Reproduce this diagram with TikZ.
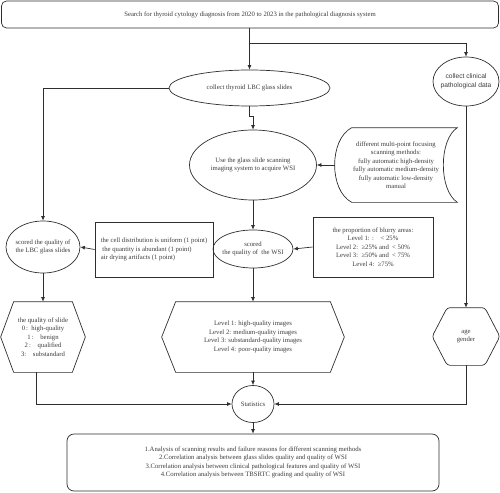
\documentclass[tikz,border=0pt]{standalone}
\usepackage{fontspec}
\setmainfont{Liberation Serif}
\setsansfont{Liberation Sans}
\usetikzlibrary{shapes.geometric,arrows.meta}
\definecolor{txtgray}{HTML}{3C3C3C}
\definecolor{linegray}{HTML}{2E2E2E}
% hexagon outline round a plain node: #2 node name, #3 corner cut
\newcommand{\hexframe}[3][]{%
  \draw[#1] (#2.west) -- ([xshift=#3]#2.north west) -- ([xshift=-#3]#2.north east)
    -- (#2.east) -- ([xshift=-#3]#2.south east) -- ([xshift=#3]#2.south west) -- cycle;}
\begin{document}
\begin{tikzpicture}[x=1pt,y=-1pt,line width=0.7pt,color=linegray,
    >={Latex[length=4.5pt,width=4pt]},
    box/.style={draw,text=txtgray,font=\fontsize{6.7}{8.5}\selectfont,align=center,inner sep=1pt},
    round box/.style={box,rounded corners=5pt},
    oval/.style={box,ellipse,inner sep=-30pt},
    frame node/.style={box,draw=none}]
    \useasboundingbox (0,0) rectangle (500,492);

    \node[round box, minimum width=497pt, minimum height=27pt] (search) at (250,14.5)
        {Search for thyroid cytology diagnosis from 2020 to 2023 in the pathological diagnosis system};
    \node[oval, minimum width=161pt, minimum height=36pt] (slides) at (249.5,88) {collect thyroid LBC glass slides};
    \node[oval, font={\sffamily\fontsize{6.7}{8.5}\selectfont}, minimum width=66pt, minimum height=49pt] (clinic) at (466,81.5)
        {collect clinical\\pathological data};
    \node[oval, minimum width=127pt, minimum height=70pt] (scan) at (253,165)
        {Use the glass slide scanning\\imaging system to acquire WSI};
    \node[frame node, minimum width=122pt, minimum height=74pt] (methods) at (396,165)
        {different multi-point focusing\\scanning methods:\\fully automatic high-density\\fully automatic medium-density\\fully automatic low-density\\manual};
    \node[oval, minimum width=80pt, minimum height=38pt] (wsiscore) at (253,249) {scored\\the quality of\ \ the WSI};
    \node[box, minimum width=120pt, minimum height=60pt] (blur) at (373,247)
        {the proportion of blurry areas:\\Level 1: :\ \ \ \ < 25\%\\Level 2:\ \ ≥25\% and\ \ < 50\%\\Level 3:\ \ ≥50\% and\ \ < 75\%\\Level 4:\ \ ≥75\%};
    \node[box, align=left, minimum width=118pt, minimum height=55pt] (points) at (154,249.5)
        {the cell distribution is uniform (1 point)\\\ the quantity is abundant (1 point)\\air drying artifacts (1 point)};
    \node[oval, minimum width=74pt, minimum height=52pt] (lbcscore) at (43,247) {scored the quality of\\the LBC glass slides};
    \node[frame node, minimum width=84pt, minimum height=70pt] (slidequal) at (43,337)
        {the quality of slide\\0\,:\ \ high-quality\\1\,:\quad benign\\2\,:\quad qualified\\3:\quad substandard};
    \node[frame node, minimum width=182pt, minimum height=70pt] (levels) at (253,337)
        {Level 1: high-quality images\\Level 2: medium-quality images\\Level 3: substandard-quality images\\Level 4: poor-quality images};
    \node[frame node, minimum width=67pt, minimum height=57pt] (agegender) at (466,336.5) {age\\gender};
    \node[oval, minimum width=42pt, minimum height=37pt] (stats) at (253,404) {Statistics};
    \node[round box, rounded corners=7pt, minimum width=372pt, minimum height=57pt] (analysis) at (253,462.5)
        {1.Analysis of scanning results and failure reasons for different scanning methods\\
         2.Correlation analysis between glass slides quality and quality of WSI\\
         3.Correlation analysis between clinical pathological features and quality of WSI\\
         4.Correlation analysis between TBSRTC grading and quality of WSI};

    % outlines
    \hexframe{slidequal}{13pt}
    \hexframe{levels}{14pt}
    \hexframe[rounded corners=3pt]{agegender}{15pt}
    \draw ([xshift=17pt]methods.north west) -- (methods.north east)
        .. controls ([xshift=-18.7pt,yshift=-12pt]methods.north east) and ([xshift=-18.7pt,yshift=12pt]methods.south east) .. (methods.south east)
        -- ([xshift=17pt]methods.south west)
        .. controls ([xshift=-5.7pt,yshift=12pt]methods.south west) and ([xshift=-5.7pt,yshift=-12pt]methods.north west) .. ([xshift=17pt]methods.north west)
        -- cycle;

    % connectors
    \coordinate (fork) at (249.5,43);
    \draw[->] (search.south -| slides.north) -- (slides.north);
    \draw[->] (fork) -| (clinic.north);
    \draw[->] (slides.south) -- ++(0,10) -| (scan.north);
    \draw[->] (slides.west) -| (lbcscore.north);
    \draw[->] (methods.west) -- (scan.east);
    \draw[->] (scan.south) -- (wsiscore.north);
    \draw[->] (blur.west) -- (wsiscore.east);
    \draw[->] (points.west) -- (lbcscore.east);
    \draw[->] (lbcscore.south) -- (slidequal.north);
    \draw[->] (wsiscore.south) -- (levels.north);
    \draw[->] (clinic.south) -- (agegender.north);
    \draw[->] (levels.south) -- (stats.north);
    \draw[->] ([xshift=-7pt]slidequal.south) |- (stats.west);
    \draw[->] (agegender.south) |- (stats.east);
    \draw[->] (stats.south) -- (analysis.north);
\end{tikzpicture}
\end{document}
